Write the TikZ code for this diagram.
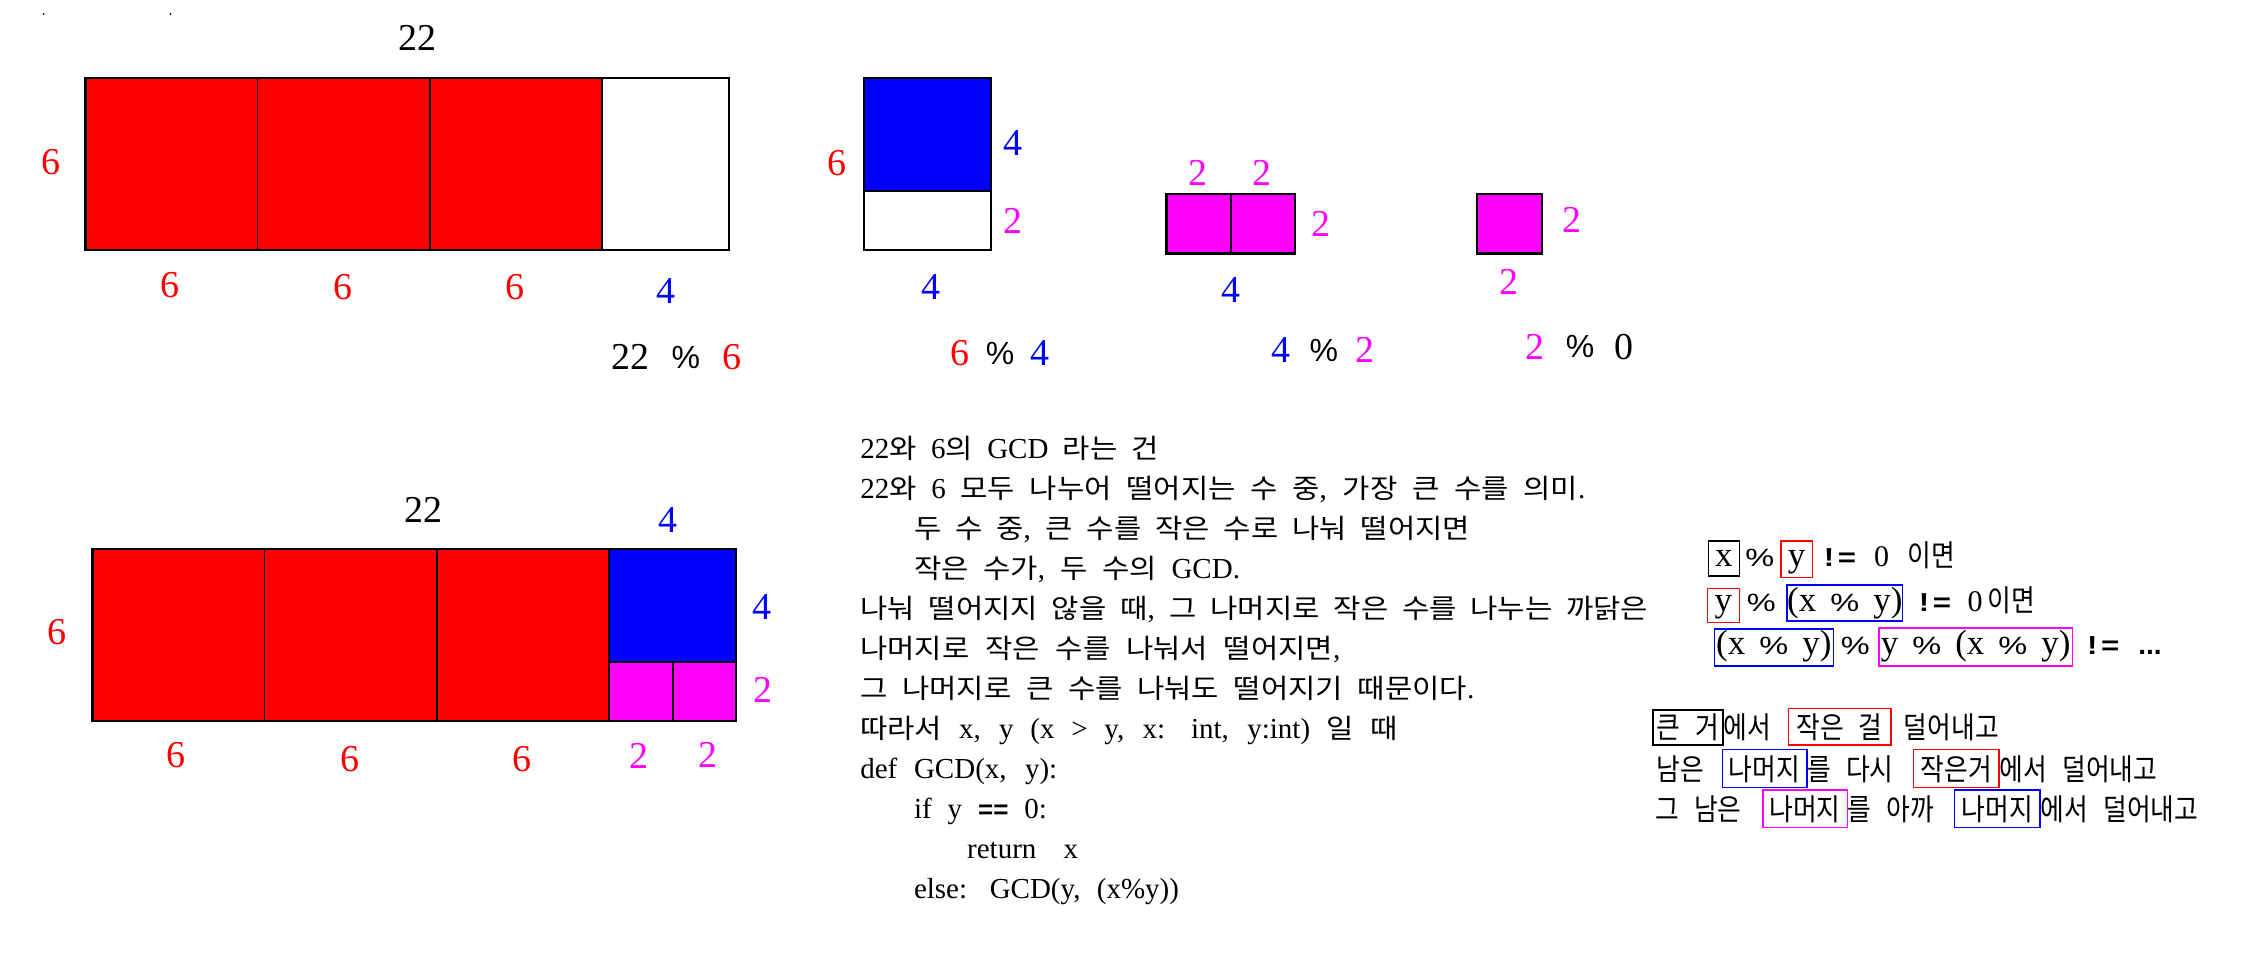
\documentclass[tikz,border=0pt]{standalone}
\usepackage{fontspec}
\usepackage{graphicx}
\setmainfont{Liberation Serif}
\newfontfamily\kr{Noto Sans CJK KR}
\newfontfamily\krn{Noto Sans CJK KR}[FakeStretch=0.86]
\newfontfamily\lsans{Liberation Sans}
\definecolor{mag}{RGB}{255,0,255}
\definecolor{pred}{RGB}{255,0,0}
\definecolor{pblue}{RGB}{0,0,255}
\newcommand\kw[1]{\scalebox{1.1}[1]{\kr\fontsize{13.5}{16}\selectfont #1}}
\newcommand\mypct{\scalebox{1.3}[1]{\lsans\fontsize{12.5}{14}\selectfont\%}}
\newcommand\myneq{\scalebox{1.2}[1]{\lsans\bfseries\fontsize{13}{15}\selectfont !\hspace{1.5pt}=}}
\newcommand\fitl[2]{\hbox to #1pt{\spaceskip=5pt plus 8pt minus 3pt\relax #2}}
\newcommand\wspA{\spaceskip=7.5pt\relax}
\newcommand\wspB{\spaceskip=7pt\relax}
\begin{document}
\begin{tikzpicture}[x=0.5pt,y=-0.5pt,
  lab/.style={inner sep=0pt, font=\fontsize{19}{22}\selectfont},
  pct/.style={inner sep=0pt, font=\lsans\fontsize{16}{20}\selectfont},
  outl/.style={draw=black, line width=1.2pt},
  divl/.style={draw=black, line width=0.8pt},
  txt/.style={anchor=base west, inner sep=0pt, font=\fontsize{14.5}{17}\selectfont},
  lbox/.style={draw, line width=0.8pt, inner sep=0pt, anchor=base, font=\fontsize{17.5}{20}\selectfont\wspB},
  rtx/.style={inner sep=0pt, anchor=base},
  kbox/.style={draw, line width=0.8pt, inner sep=0pt, anchor=base, font=\krn\fontsize{15}{18}\selectfont\wspA},
  ktx/.style={inner sep=0pt, anchor=base west, font=\krn\fontsize{15}{18}\selectfont\wspA},
]
\useasboundingbox (0,0) rectangle (2258,971);
\fill[white] (0,0) rectangle (2258,971);
% tiny dots
\fill (43.6,14) circle (1);
\fill (170.6,14) circle (1);

% ---- top big rectangle
\fill[pred] (85.3,78) rectangle (602,249.7);
\draw[divl] (257.4,78) -- (257.4,249.7) (430,78) -- (430,249.7) (602,78) -- (602,249.7);
\draw[outl] (85.3,78) rectangle (729,249.7);
\node[lab] (t22) at (417,38.3) {22};
\node[lab,pred] (t6l) at (50.9,161.7) {6};
\node[lab,pred] (t6a) at (169.6,285) {6};
\node[lab,pred] (t6b) at (342.7,287) {6};
\node[lab,pred] (t6c) at (515.2,287) {6};
\node[lab,pblue] (t4) at (665.5,290.7) {4};
\node[lab] (e1a) at (630,357.3) {22};
\node[pct] (e1b) at (685.8,357.3) {\%};
\node[lab,pred] (e1c) at (731.9,357.3) {6};

% ---- blue rectangle
\fill[pblue] (864.2,77.7) rectangle (990.9,191);
\draw[divl] (864.2,191) -- (990.9,191);
\draw[outl] (864.2,77.7) rectangle (990.9,250);
\node[lab,pred] (b6) at (837.3,163.3) {6};
\node[lab,pblue] (b4r) at (1012.8,142.7) {4};
\node[lab,mag] (b2r) at (1012.8,221) {2};
\node[lab,pblue] (b4b) at (930.5,286.7) {4};
\node[lab,pred] (e2a) at (960.2,353.3) {6};
\node[pct] (e2b) at (1000.2,353.3) {\%};
\node[lab,pblue] (e2c) at (1039.7,353.3) {4};

% ---- magenta pair
\fill[mag] (1166.4,193.7) rectangle (1294.7,253.3);
\draw[divl] (1231.1,193.7) -- (1231.1,253.3);
\draw[outl] (1166.4,193.7) rectangle (1294.7,253.3);
\node[lab,mag] (p2a) at (1197.7,173.3) {2};
\node[lab,mag] (p2b) at (1261.8,173.3) {2};
\node[lab,mag] (p2r) at (1321,224) {2};
\node[lab,pblue] (p4) at (1230.6,290) {4};
\node[lab,pblue] (e3a) at (1280.5,350) {4};
\node[pct] (e3b) at (1323.8,350) {\%};
\node[lab,mag] (e3c) at (1365,350) {2};

% ---- single magenta
\fill[mag] (1476.8,193.7) rectangle (1542.1,253.3);
\draw[outl] (1476.8,193.7) rectangle (1542.1,253.3);
\node[lab,mag] (s2r) at (1571.7,220) {2};
\node[lab,mag] (s2b) at (1508.7,281.7) {2};
\node[lab,mag] (e4a) at (1535,346.7) {2};
\node[pct] (e4b) at (1580,346.7) {\%};
\node[lab] (e4c) at (1624.4,346.7) {0};

% ---- bottom big rectangle
\fill[pred] (92.3,549) rectangle (609.2,720.7);
\fill[pblue] (609.2,549) rectangle (736.2,662);
\fill[mag] (609.2,662) rectangle (736.2,720.7);
\draw[divl] (264.3,549) -- (264.3,720.7) (436.7,549) -- (436.7,720.7) (609.2,549) -- (609.2,720.7)
  (609.2,662) -- (736.2,662) (673,662) -- (673,720.7);
\draw[outl] (92.3,549) rectangle (736.2,720.7);
\node[lab] (u22) at (423.5,510) {22};
\node[lab,pblue] (u4t) at (668.4,520) {4};
\node[lab,pred] (u6l) at (57.1,631.7) {6};
\node[lab,pblue] (u4r) at (761.7,606.7) {4};
\node[lab,mag] (u2r) at (762.8,690) {2};
\node[lab,pred] (u6a) at (176,755) {6};
\node[lab,pred] (u6b) at (349.5,759) {6};
\node[lab,pred] (u6c) at (522,759) {6};
\node[lab,mag] (u2a) at (638.8,756) {2};
\node[lab,mag] (u2b) at (707.7,755) {2};

% ---- middle text block
\node[txt] (m1) at (859.9,458) {\fitl{149.5}{22\kw{와} 6\kw{의} GCD \kw{라는} \kw{건}}};
\node[txt] (m2) at (859.9,498) {\fitl{362.5}{22\kw{와} 6 \kw{모두} \kw{나누어} \kw{떨어지는} \kw{수} \kw{중}, \kw{가장} \kw{큰} \kw{수를} \kw{의미}.}};
\node[txt] (m3) at (913.6,538) {\fitl{278}{\kw{두} \kw{수} \kw{중}, \kw{큰} \kw{수를} \kw{작은} \kw{수로} \kw{나눠} \kw{떨어지면}}};
\node[txt] (m4) at (913.6,578) {\fitl{163}{\kw{작은} \kw{수가}, \kw{두} \kw{수의} GCD.}};
\node[txt] (m5) at (859.9,618) {\fitl{394}{\kw{나눠} \kw{떨어지지} \kw{않을} \kw{때}, \kw{그} \kw{나머지로} \kw{작은} \kw{수를} \kw{나누는} \kw{까닭은}}};
\node[txt] (m6) at (859.9,658) {\fitl{240}{\kw{나머지로} \kw{작은} \kw{수를} \kw{나눠서} \kw{떨어지면},}};
\node[txt] (m7) at (859.9,698) {\fitl{307}{\kw{그} \kw{나머지로} \kw{큰} \kw{수를} \kw{나눠도} \kw{떨어지기} \kw{때문이다}.}};
\node[txt] (m8) at (859.9,738) {\fitl{269}{\kw{따라서} x, y (x > y, x: int, y:int) \kw{일} \kw{때}}};
\node[txt] (m9) at (859.9,778) {\fitl{98.5}{def GCD(x, y):}};
\node[txt] (m10) at (913.6,818) {\fitl{66.5}{if y {\lsans\bfseries\fontsize{13}{15}\selectfont ==} 0:}};
\node[txt] (m11) at (966.8,858) {\fitl{55.5}{return x}};
\node[txt] (m12) at (913.6,898) {\fitl{132.5}{else: GCD(y, (x\%y))}};

% ---- right: expressions
\node[lbox,draw=black,minimum width=15.5pt,text height=12.85pt,text depth=4.65pt] (r1a) at (1723.8,566.7) {x};
\node[rtx] (r1b) at (1759.8,566.7) {\mypct};
\node[lbox,draw=pred,minimum width=15.8pt,text height=12.85pt,text depth=5.3pt] (r1c) at (1796.5,566.7) {y};
\node[rtx] (r1d) at (1840,566.7) {\myneq};
\node[rtx,font=\fontsize{15}{17}\selectfont] (r1e) at (1881.7,566.7) {0};
\node[ktx] (r1f) at (1907,566.7) {이면};

\node[lbox,draw=pred,minimum width=16pt,text height=11.7pt,text depth=5.3pt] (r2a) at (1723.3,611.7) {y};
\node[rtx] (r2b) at (1761.3,611.7) {\mypct};
\node[lbox,draw=pblue,minimum width=57.5pt,text height=13.35pt,text depth=4.65pt] (r2c) at (1844.8,611.7) {(x \mypct{} y)};
\node[rtx] (r2d) at (1935,611.7) {\myneq};
\node[rtx,font=\fontsize{15}{17}\selectfont] (r2e) at (1975,611.7) {0};
\node[ktx] (r2f) at (1987,611.7) {이면};

\node[lbox,draw=pblue,minimum width=59.5pt,text height=12.5pt,text depth=6pt] (r3a) at (1773.8,654) {(x \mypct{} y)};
\node[rtx] (r3b) at (1855.3,654) {\mypct};
\node[lbox,draw=mag,minimum width=96.65pt,text height=13.15pt,text depth=6pt] (r3c) at (1975.65,654) {y \mypct{} (x \mypct{} y)};
\node[rtx] (r3d) at (2103.3,654) {\myneq};
\node[rtx,font=\lsans\bfseries\fontsize{14}{15}\selectfont] (r3e) at (2150,654) {...};

% ---- right: korean lines
\node[kbox,draw=black,minimum width=35pt,text height=14pt,text depth=3.5pt] (k1a) at (1687.7,738) {큰 거};
\node[ktx] (k1b) at (1723.5,738) {에서};
\node[kbox,draw=pred,minimum width=51.2pt,text height=14.85pt,text depth=3.5pt] (k1c) at (1839.5,738) {작은 걸};
\node[ktx] (k1d) at (1903.5,738) {덜어내고};

\node[ktx] (k2a) at (1656.5,780) {남은};
\node[kbox,draw=pblue,minimum width=42.2pt,text height=15.35pt,text depth=3.65pt] (k2b) at (1764.5,780) {나머지};
\node[ktx] (k2c) at (1807,780) {를 다시};
\node[kbox,draw=pred,minimum width=42.85pt,text height=15.35pt,text depth=3.65pt] (k2d) at (1956.2,780) {작은거};
\node[ktx] (k2e) at (1999.5,780) {에서 덜어내고};

\node[ktx] (k3a) at (1655,820) {그 남은};
\node[kbox,draw=mag,minimum width=42.3pt,text height=15pt,text depth=3.65pt] (k3b) at (1805,820) {나머지};
\node[ktx] (k3c) at (1847.5,820) {를 아까};
\node[kbox,draw=pblue,minimum width=42.85pt,text height=15pt,text depth=3.65pt] (k3d) at (1997.2,820) {나머지};
\node[ktx] (k3e) at (2040.5,820) {에서 덜어내고};
\end{tikzpicture}
\end{document}
